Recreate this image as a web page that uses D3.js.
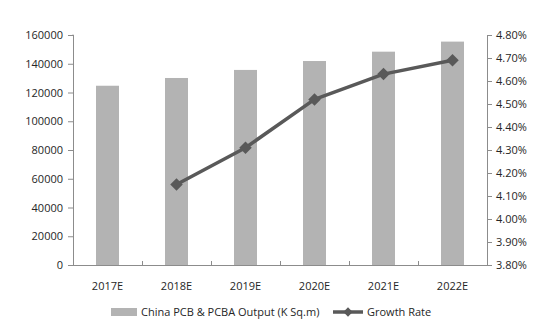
<!DOCTYPE html>
<html><head><meta charset="utf-8">
<script src="https://cdn.jsdelivr.net/npm/d3@7"></script>
<style>body{margin:0;background:#fff;} text{font-family:"Open Sans",sans-serif;}</style>
</head><body>
<svg id="c" width="549" height="331"></svg>
<script>
const categories = ["2017E","2018E","2019E","2020E","2021E","2022E"];
const outputValues = [124700, 130100, 135700, 141900, 148400, 155400];
const growthRates = [null, 4.15, 4.31, 4.52, 4.63, 4.69];
const leftTicks = [0,20000,40000,60000,80000,100000,120000,140000,160000];
const rightTicks = [3.8,3.9,4.0,4.1,4.2,4.3,4.4,4.5,4.6,4.7,4.8];
const legendLabels = ["China PCB & PCBA Output (K Sq.m)", "Growth Rate"];

const svg = d3.select("#c");
const L = 73, R = 487, T = 35, B = 265;
const xb = d3.scaleBand().domain(categories).range([L, R]);
const yL = d3.scaleLinear().domain([0,160000]).range([B, T]);
const yR = d3.scaleLinear().domain([3.8,4.8]).range([B, T]);
const axisColor = "#8c8c8c", textColor = "#262626";

// bars
svg.append("g").selectAll("rect").data(outputValues).join("rect")
  .attr("x", (d,i)=>xb(categories[i]) + xb.bandwidth()/2 - 11.5)
  .attr("width", 23)
  .attr("y", d=>yL(d)).attr("height", d=>B - yL(d))
  .attr("fill", "#b3b3b3");

const gl = svg.append("g").attr("transform", `translate(${L},0)`)
  .call(d3.axisLeft(yL).tickValues(leftTicks).tickFormat(d3.format("d")).tickSize(5).tickPadding(5));
const gr = svg.append("g").attr("transform", `translate(${R},0)`)
  .call(d3.axisRight(yR).tickValues(rightTicks).tickFormat(d=>d.toFixed(2)+"%").tickSize(5).tickPadding(4));
const gb = svg.append("g").attr("transform", `translate(0,${B})`)
  .call(d3.axisBottom(xb).tickSize(0).tickPadding(17));
svg.append("g").selectAll("line").data(categories.slice(1)).join("line")
  .attr("x1", d=>xb(d)+0.5).attr("x2", d=>xb(d)+0.5)
  .attr("y1", B).attr("y2", B-4).attr("stroke", axisColor);

[gl, gr, gb].forEach(g=>{
  g.selectAll("path.domain").attr("stroke", axisColor);
  g.selectAll(".tick line").attr("stroke", axisColor);
  g.selectAll("text").attr("fill", textColor).style("font-size","11px").style("font-family","'Open Sans',sans-serif");
});
gl.select("path.domain").attr("d", `M-0.5,${T}H0.5V${B+0.5}`);
gr.select("path.domain").attr("d", `M0.5,${T}V${B+0.5}`);
gb.select("path.domain").attr("d", `M${L},0.5H${R}`);

const pts = growthRates.map((d,i)=>({c:categories[i], v:d})).filter(d=>d.v!==null);
const line = d3.line().x(d=>xb(d.c)+xb.bandwidth()/2).y(d=>yR(d.v));
svg.append("path").datum(pts).attr("d", line).attr("fill","none")
  .attr("stroke","#595959").attr("stroke-width",3.5).attr("stroke-linejoin","round");
const diamond = d3.symbol().type(d3.symbolDiamond2).size(100);
svg.append("g").selectAll("path").data(pts).join("path")
  .attr("d", diamond)
  .attr("transform", d=>`translate(${xb(d.c)+xb.bandwidth()/2},${yR(d.v)})`)
  .attr("fill","#595959");

const lg = svg.append("g");
lg.append("rect").attr("x",111).attr("y",308).attr("width",26).attr("height",8).attr("fill","#b3b3b3");
lg.append("text").attr("x",141).attr("y",316).text(legendLabels[0]).attr("fill",textColor).style("font-size","11px");
lg.append("line").attr("x1",333).attr("x2",363).attr("y1",312).attr("y2",312).attr("stroke","#595959").attr("stroke-width",3.5);
lg.append("path").attr("d", d3.symbol().type(d3.symbolDiamond2).size(55)).attr("transform","translate(348,312)").attr("fill","#595959");
lg.append("text").attr("x",367).attr("y",316).text(legendLabels[1]).attr("fill",textColor).style("font-size","11px");
</script>
</body></html>
